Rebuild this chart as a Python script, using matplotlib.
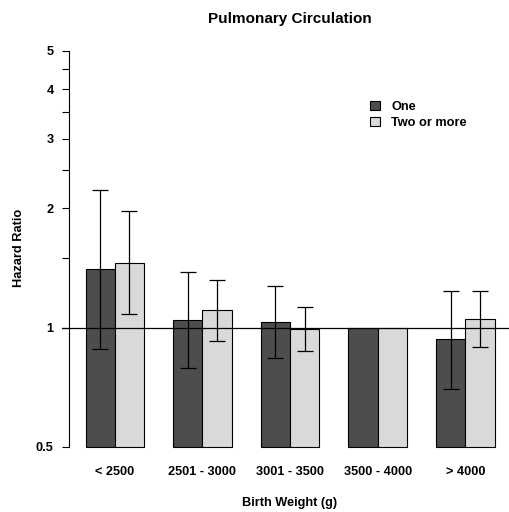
import matplotlib
matplotlib.use("Agg")
import matplotlib.pyplot as plt
from matplotlib.patches import Patch
import numpy as np

plt.rcParams['font.family'] = ['Liberation Sans', 'DejaVu Sans']
plt.rcParams['font.weight'] = 'bold'

categories = ["< 2500", "2501 - 3000", "3001 - 3500", "3500 - 4000", "> 4000"]
series_names = ["One", "Two or more"]
hr_one = [1.41, 1.045, 1.036, 1.0, 0.935]
lo_one = [0.884, 0.79, 0.84, np.nan, 0.70]
hi_one = [2.22, 1.385, 1.275, np.nan, 1.24]
hr_two = [1.455, 1.107, 0.991, 1.0, 1.05]
lo_two = [1.08, 0.926, 0.874, np.nan, 0.893]
hi_two = [1.97, 1.32, 1.127, np.nan, 1.24]
y_ticks = [0.5, 1, 2, 3, 4, 5]
y_minor = [1.5, 2.5, 3.5, 4.5]

colors = ["#4d4d4d", "#d9d9d9"]
W, H = 510, 512
fs = 9.2
fig = plt.figure(figsize=(W / 100, H / 100), dpi=100)

# plot region in pixels
px_left, px_right, px_top, px_bot = 62, 510, 31, 463
ax = fig.add_axes([px_left / W, (H - px_bot) / H, (px_right - px_left) / W, (px_bot - px_top) / H])

base = 0.5
dec = 396.0
ax.set_yscale('log')
ax.set_ylim(10 ** (np.log10(0.5) - 16 / dec), 10 ** (np.log10(5) + 19.7 / dec))
ax.set_xlim(0.19, 15.53)

centers = np.arange(len(categories)) * 3 + 2
series = [(hr_one, lo_one, hi_one), (hr_two, lo_two, hi_two)]
for k, (hr, lo, hi) in enumerate(series):
    xs = centers - 0.5 + k
    hr = np.array(hr)
    ax.bar(xs, hr - base, bottom=base, width=1.0, color=colors[k],
           edgecolor="black", linewidth=0.8, zorder=2)
    lo = np.array(lo)
    hi = np.array(hi)
    m = ~np.isnan(lo)
    ax.errorbar(xs[m], hr[m], yerr=[hr[m] - lo[m], hi[m] - hr[m]], fmt='none',
                ecolor="black", elinewidth=0.9, capsize=5.5, capthick=0.9, zorder=3)

ax.axhline(1.0, color="black", linewidth=0.9, zorder=4)

for s in ["top", "right", "bottom"]:
    ax.spines[s].set_visible(False)
ax.spines["left"].set_position(("data", 0.43))
ax.spines["left"].set_bounds(0.5, 5)
ax.spines["left"].set_linewidth(0.8)

ax.set_yticks(y_ticks)
ax.set_yticklabels([("%g" % v) for v in y_ticks], fontsize=fs, fontweight='bold')
ax.set_yticks(y_minor, minor=True)
ax.yaxis.set_minor_formatter(plt.NullFormatter())
ax.tick_params(axis='y', which='both', length=5, width=0.8, pad=6)

ax.set_xticks(centers)
ax.set_xticklabels(categories, fontsize=fs, fontweight='bold')
ax.tick_params(axis='x', length=0, pad=2.5)

fig.text(290 / W, 1 - 19 / H, "Pulmonary Circulation", ha='center', va='center',
         fontsize=11, fontweight='bold')
fig.text(290 / W, 1 - 503 / H, "Birth Weight (g)", ha='center', va='center',
         fontsize=fs, fontweight='bold')
fig.text(19 / W, 1 - 248 / H, "Hazard Ratio", ha='center', va='center',
         rotation=90, fontsize=fs, fontweight='bold')

handles = [Patch(facecolor=c, edgecolor="black", linewidth=0.8) for c in colors]
ax.legend(handles, series_names, loc='upper left',
          bbox_to_anchor=((370 - px_left) / (px_right - px_left), (px_bot - 101) / (px_bot - px_top)),
          frameon=False, handlelength=0.75, handleheight=0.75,
          handletextpad=0.9, labelspacing=0.3, borderaxespad=0, borderpad=0,
          prop={'weight': 'bold', 'size': fs})

fig.savefig("out.png", dpi=100)
